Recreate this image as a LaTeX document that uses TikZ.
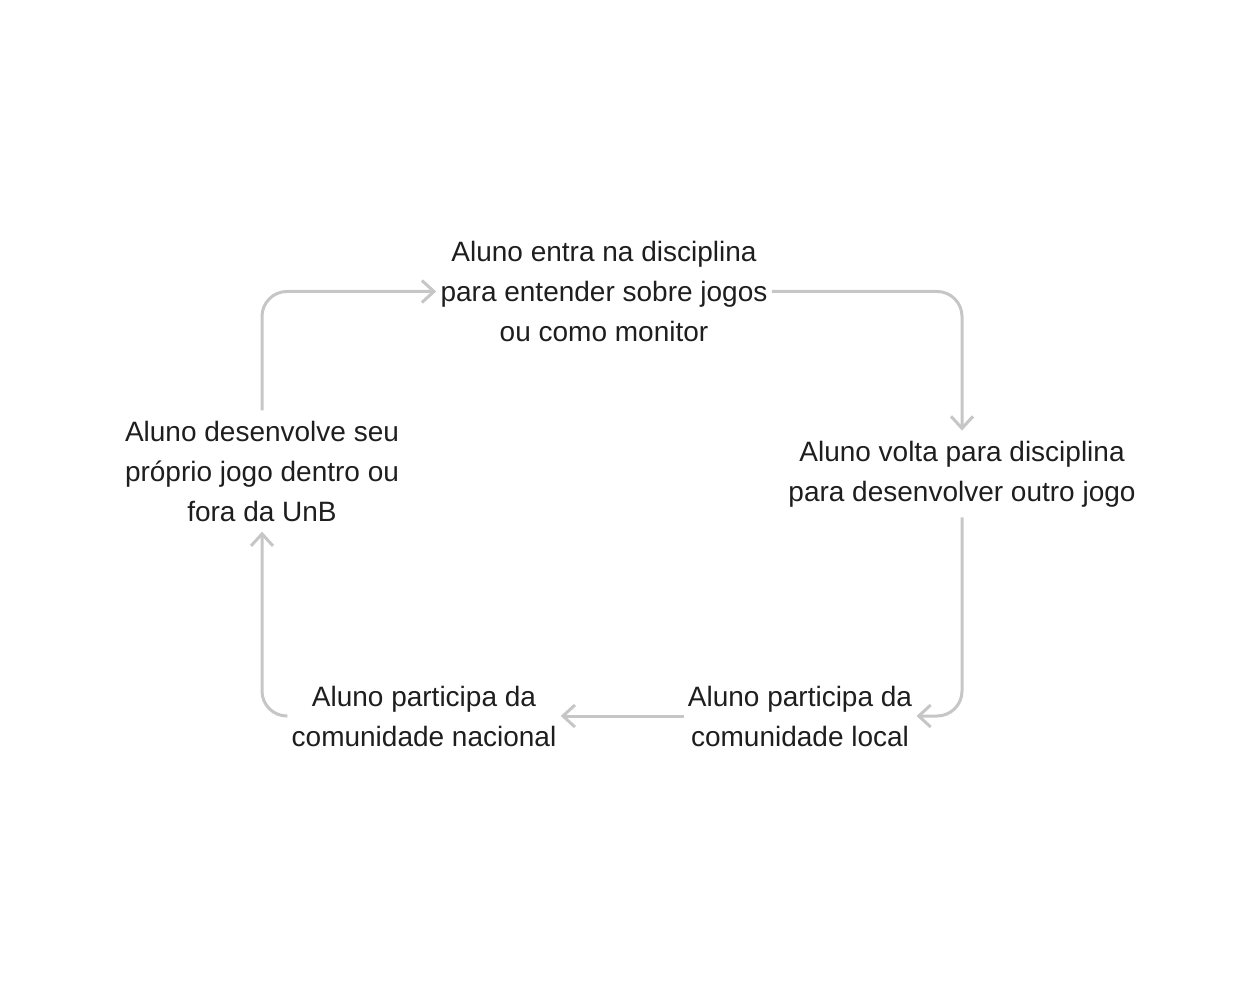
\documentclass[tikz,border=0pt]{standalone}
\usepackage{fontspec}
\setmainfont{Liberation Sans}
\usetikzlibrary{arrows.meta}
\definecolor{linegray}{HTML}{C6C6C6}
\definecolor{textdark}{HTML}{1E1E1E}

\begin{document}
\begin{tikzpicture}[x=0.5pt, y=-0.5pt,
    etapa/.style={align=center, inner xsep=2pt, inner ysep=5pt, text=textdark, font=\fontsize{14}{20}\selectfont},
    seta/.style={draw=linegray, line width=1.5pt, rounded corners=12.5pt, -{Straight Barb[length=6pt, width=11pt, line width=1.5pt]}}]
    \useasboundingbox (0,0) rectangle (1245,988);
    % etapas do ciclo
    \node[etapa] (entra) at (604, 291.5) {Aluno entra na disciplina\\para entender sobre jogos\\ou como monitor};
    \node[etapa] (volta) at (962, 474) {Aluno volta para disciplina\\para desenvolver outro jogo};
    \node[etapa] (local) at (800, 716) {Aluno participa da\\comunidade local};
    \node[etapa] (nacional) at (424, 716) {Aluno participa da\\comunidade nacional};
    \node[etapa] (proprio) at (262, 471) {Aluno desenvolve seu\\próprio jogo dentro ou\\fora da UnB};
    % setas
    \draw[seta] (proprio.north) |- (entra.west);
    \draw[seta] (entra.east) -| (volta.north);
    \draw[seta] (volta.south) |- (local.east);
    \draw[seta] (local.west) -- (nacional.east);
    \draw[seta] (nacional.west) -| (proprio.south);
\end{tikzpicture}
\end{document}
